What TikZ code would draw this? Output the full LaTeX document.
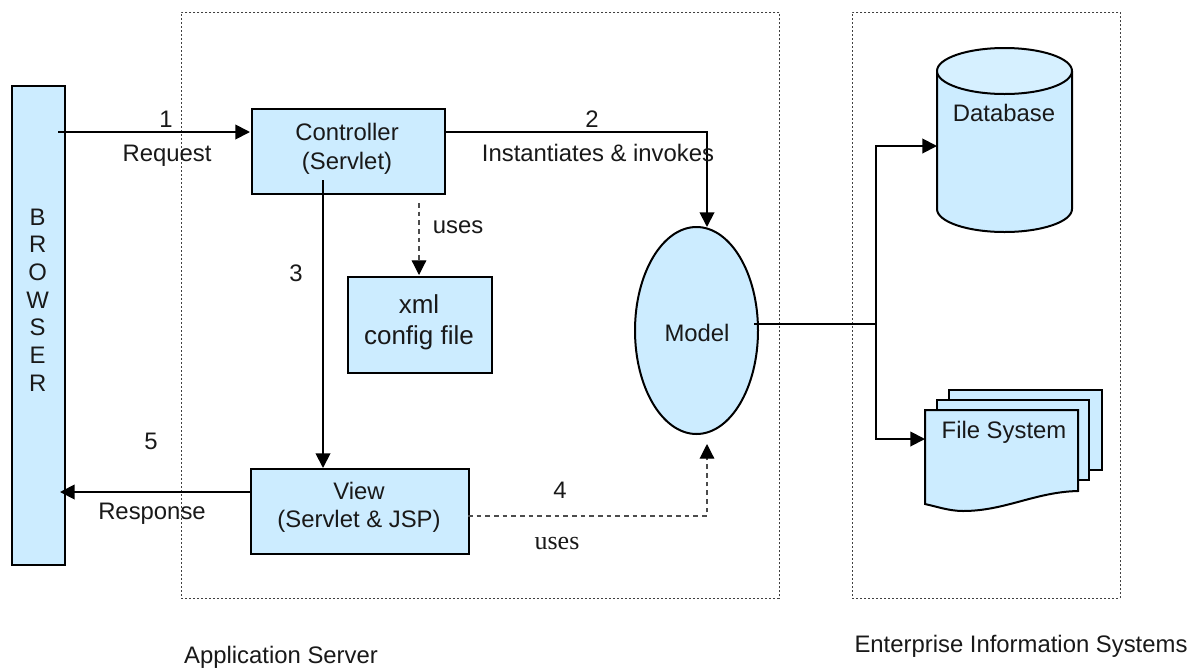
\documentclass[tikz,border=0pt]{standalone}
\usepackage{fontspec}
\setmainfont{Liberation Sans}
\newfontfamily\serifuses{Liberation Serif}
\usetikzlibrary{arrows.meta,calc}
\definecolor{fillblue}{HTML}{CCECFF}
\definecolor{lidblue}{HTML}{D6F0FF}
\tikzset{
  x=0.75pt,y=-0.75pt,
  every node/.style={font=\fontsize{17.9pt}{21pt}\selectfont,inner sep=0pt,align=center,text=black!90},
  shapeline/.style={draw=black,fill=fillblue,line width=1.5pt},
  zone/.style={draw=black!75,line width=0.7pt,dash pattern=on 1.5pt off 1.5pt},
  conn/.style={draw=black,line width=1.4pt},
  arr/.style={conn,-{Triangle[length=11pt,width=11pt]}},
  darr/.style={draw=black!70,line width=0.9pt,dash pattern=on 3.5pt off 3pt,-{Triangle[length=11pt,width=11pt,color=black]}},
  lbl/.style={anchor=center}
}
\begin{document}
\begin{tikzpicture}
\useasboundingbox (0,0) rectangle (1199,668);
\fill[white] (0,0) rectangle (1199,668);
% zones
\node[zone,draw,anchor=north west,minimum width=448.5pt,minimum height=439.5pt] (app) at (181,12) {};
\node[zone,draw,anchor=north west,minimum width=201pt,minimum height=439.5pt] (eis) at (852,12) {};
% boxes
\node[shapeline,anchor=north west,minimum width=39.75pt,minimum height=359.25pt] (browser) at (11,85) {};
\node[lbl,font=\fontsize{17.9pt}{20.8pt}\selectfont] (browserlabel) at (37.7,300) {B\\R\\O\\W\\S\\E\\R};
\node[shapeline,anchor=north west,minimum width=144.75pt,minimum height=63.75pt] (controller) at (250.5,108) {};
\node[lbl,font=\fontsize{17.9pt}{21.5pt}\selectfont] (controllerlabel) at (347,149) {Controller\\(Servlet)};
\node[shapeline,anchor=north west,minimum width=108pt,minimum height=72pt] (xml) at (347,276) {};
\node[lbl,font=\fontsize{19.5pt}{23pt}\selectfont] (xmllabel) at (419,322) {xml\\config file};
\node[shapeline,anchor=north west,minimum width=163.5pt,minimum height=63.75pt] (view) at (250,468) {};
\node[lbl] (viewlabel) at (359,507) {View\\(Servlet \& JSP)};
% model
\draw[shapeline] (696.5,330.5) ellipse [x radius=61.5,y radius=103.5];
\coordinate (modeltop) at (707,227);
\coordinate (modelbottom) at (707,444);
\coordinate (modelright) at (754,324);
\node[lbl] (modellabel) at (697,333) {Model};
% database
\draw[shapeline] (937,71) -- (937,209) arc[start angle=180,end angle=0,x radius=67.5,y radius=23] -- (1072,71);
\draw[shapeline,fill=lidblue] (1004.5,71) ellipse [x radius=67.5,y radius=23];
\coordinate (dbleft) at (937,146);
\node[lbl] (dblabel) at (1004,113) {Database};
% file system
\draw[shapeline] (949,390) -- (1102,390) -- (1102,470) -- (949,470) -- cycle;
\draw[shapeline] (937,400) -- (1089,400) -- (1089,480) -- (937,480) -- cycle;
\draw[shapeline] (925,410) -- (1078,410) -- (1078,491) .. controls (1035,492) and (1005,511) .. (963,511) .. controls (950,511) and (938,507) .. (925,504) -- cycle;
\coordinate (fileleft) at (925,439);
\node[lbl] (filelabel) at (1004,432) {File System};
% free ends
\coordinate (reqstart) at (58,132);
\coordinate (ctlreq) at (250,132);
\coordinate (ctlout) at (444,132);
\coordinate (ctlbottom) at (323,180);
\coordinate (viewtop) at (323,468);
\coordinate (ctlxml) at (419,203);
\coordinate (xmltop) at (419,275);
\coordinate (viewleft) at (250,492);
\coordinate (browserright) at (60,492);
\coordinate (viewright) at (468,516);
\coordinate (junction) at (876,324);
% connectors
\draw[arr] (reqstart) -- (ctlreq);
\draw[arr] (ctlout) -| (modeltop);
\draw[arr] (ctlbottom) -- (viewtop);
\draw[darr] (ctlxml) -- (xmltop);
\draw[arr] (viewleft) -- (browserright);
\draw[darr] (viewright) -| (modelbottom);
\draw[conn] (modelright) -- (junction);
\draw[arr] (junction) |- (dbleft);
\draw[arr] (junction) |- (fileleft);
% labels
\node[lbl] (n1) at (166,119) {1};
\node[lbl] (request) at (167,156) {Request};
\node[lbl] (n2) at (592,119) {2};
\node[lbl] (inst) at (598,153) {Instantiates \& invokes};
\node[lbl] (usesa) at (458,227) {uses};
\node[lbl] (n3) at (296,273) {3};
\node[lbl] (n5) at (151,441) {5};
\node[lbl] (response) at (152,514) {Response};
\node[lbl] (n4) at (560,490) {4};
\node[lbl,font=\fontsize{19.5pt}{23pt}\serifuses] (usesb) at (557,543) {uses};
\node[lbl] (appl) at (281,657) {Application Server};
\node[lbl] (eisl) at (1021,646) {Enterprise Information Systems};
\end{tikzpicture}
\end{document}
